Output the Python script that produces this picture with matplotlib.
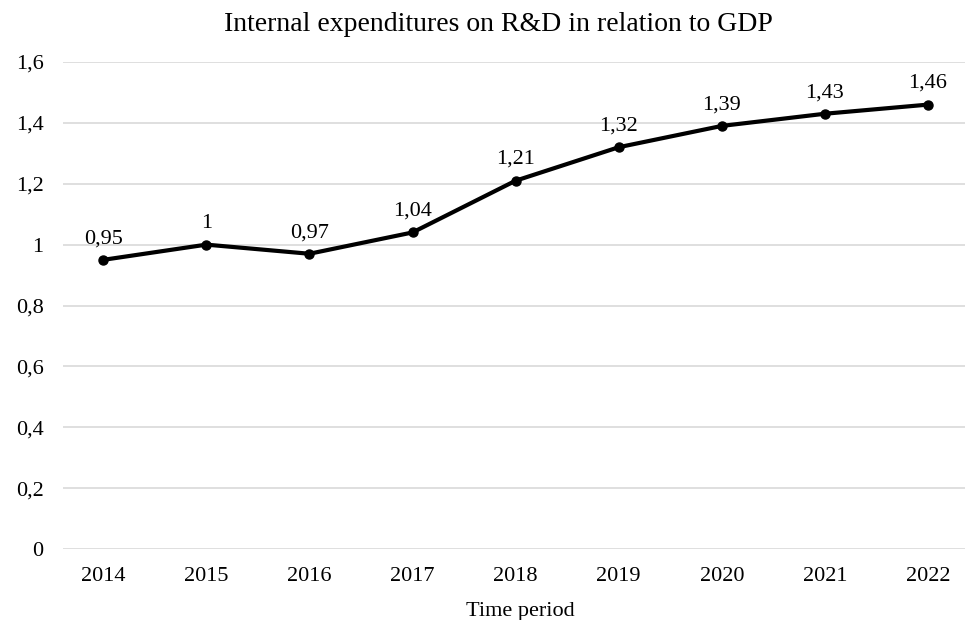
import matplotlib
matplotlib.use("Agg")
import matplotlib.pyplot as plt

years = ["2014", "2015", "2016", "2017", "2018", "2019", "2020", "2021", "2022"]
values = [0.95, 1.00, 0.97, 1.04, 1.21, 1.32, 1.39, 1.43, 1.46]
yticks = [0, 0.2, 0.4, 0.6, 0.8, 1.0, 1.2, 1.4, 1.6]

plt.rcParams['font.family'] = ['Liberation Serif', 'DejaVu Serif']

def comma(v):
    s = ('%.2f' % v).rstrip('0').rstrip('.')
    return s.replace('.', ',')

fig = plt.figure(figsize=(9.67, 6.2), dpi=100)
ax = fig.add_axes([0.0652, 0.1145, 0.9328, 0.7855])

x = list(range(len(years)))
ax.plot(x, values, color='black', lw=3.0, marker='o', ms=6.5, zorder=3)
for xi, v in zip(x, values):
    ax.annotate(comma(v), (xi, v), xytext=(0, 12), textcoords='offset points',
                ha='center', va='baseline', fontsize=16)

ax.set_ylim(0, 1.6)
ax.set_xlim(-0.39, 8.36)
ax.set_yticks(yticks)
ax.set_yticklabels([comma(t) for t in yticks], fontsize=16)
ax.set_xticks(x)
ax.set_xticklabels(years, fontsize=16)
ax.tick_params(length=0, pad=14)
ax.tick_params(axis='x', pad=13)
ax.grid(axis='y', color='#d9d9d9', lw=1.2)
ax.set_axisbelow(True)
for s in ax.spines.values():
    s.set_visible(False)

# title and axis caption placed directly on the figure
fig.text(498 / 967, 589 / 620, "Internal expenditures on R&D in relation to GDP",
         ha='center', va='baseline', fontsize=20)
fig.text(520 / 967, 4 / 620, "Time period", ha='center', va='baseline', fontsize=16)

fig.savefig("out.png", dpi=100)
